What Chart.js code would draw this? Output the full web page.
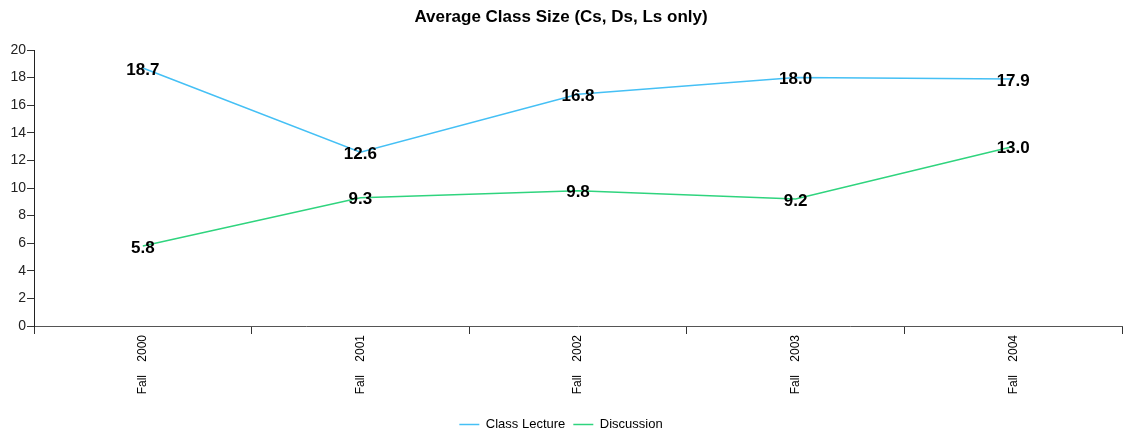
<!DOCTYPE html>
<html>
<head>
<meta charset="utf-8">
<script src="https://cdn.jsdelivr.net/npm/chart.js@4"></script>
<style>
  html, body { margin: 0; padding: 0; background: #fff; }
  #wrap { width: 1126px; height: 435px; position: relative; }
</style>
</head>
<body>
<div id="wrap"><canvas id="chart"></canvas></div>
<script>
// data
const terms = ['Fall    2000', 'Fall    2001', 'Fall    2002', 'Fall    2003', 'Fall    2004'];
const lectureSize = [18.7, 12.6, 16.8, 18.0, 17.9];
const discussionSize = [5.8, 9.3, 9.8, 9.2, 13.0];
const yTicks = [0, 2, 4, 6, 8, 10, 12, 14, 16, 18, 20];

const FONT = 'Liberation Sans, Arial, Helvetica, sans-serif';

// value labels drawn on top of each point
const valueLabels = {
    id: 'valueLabels',
    afterDatasetsDraw(chart) {
        const ctx = chart.ctx;
        ctx.save();
        ctx.font = 'bold 17px ' + FONT;
        ctx.fillStyle = '#000';
        ctx.textAlign = 'center';
        ctx.textBaseline = 'middle';
        chart.data.datasets.forEach((ds, i) => {
            chart.getDatasetMeta(i).data.forEach((pt, j) => {
                ctx.fillText(ds.data[j].toFixed(1), pt.x, pt.y + 2);
            });
        });
        ctx.restore();
    }
};

const ctx = document.getElementById('chart').getContext('2d');
new Chart(ctx, {
    type: 'line',
    data: {
        labels: terms,
        datasets: [{
            label: 'Class Lecture',
            data: lectureSize,
            borderColor: '#45c0f5',
            backgroundColor: '#45c0f5',
            borderWidth: 1.5,
            pointRadius: 0,
            tension: 0
        }, {
            label: 'Discussion',
            data: discussionSize,
            borderColor: '#2fd47e',
            backgroundColor: '#2fd47e',
            borderWidth: 1.5,
            pointRadius: 0,
            tension: 0
        }]
    },
    options: {
        responsive: true,
        maintainAspectRatio: false,
        animation: false,
        layout: { padding: { left: 0, right: 4, top: 0, bottom: -6 } },
        scales: {
            x: {
                offset: true,
                afterFit: scale => { scale.height = 84; },
                grid: { offset: true, drawOnChartArea: false, drawTicks: true, tickLength: 8, tickColor: '#333' },
                border: { color: '#555', width: 1 },
                ticks: {
                    minRotation: 90, maxRotation: 90, padding: 1,
                    color: '#000', font: { family: FONT, size: 12 }
                }
            },
            y: {
                min: 0, max: 20,
                afterBuildTicks: scale => { scale.ticks = yTicks.map(v => ({ value: v })); },
                afterFit: scale => { scale.width = 34; },
                grid: { drawOnChartArea: false, drawTicks: true, tickLength: 7, tickColor: '#333' },
                border: { color: '#222', width: 1 },
                ticks: { padding: 1, color: '#222', font: { family: FONT, size: 14 } }
            }
        },
        plugins: {
            title: {
                display: true,
                text: 'Average Class Size (Cs, Ds, Ls only)',
                color: '#000',
                font: { family: FONT, size: 17, weight: 'bold' },
                padding: { top: 7, bottom: 22.6 }
            },
            legend: {
                position: 'bottom',
                labels: {
                    usePointStyle: true,
                    pointStyle: 'line',
                    pointStyleWidth: 20,
                    padding: 8,
                    color: '#000',
                    font: { family: FONT, size: 13 }
                }
            },
            tooltip: { enabled: false }
        }
    },
    plugins: [valueLabels]
});
</script>
</body>
</html>
